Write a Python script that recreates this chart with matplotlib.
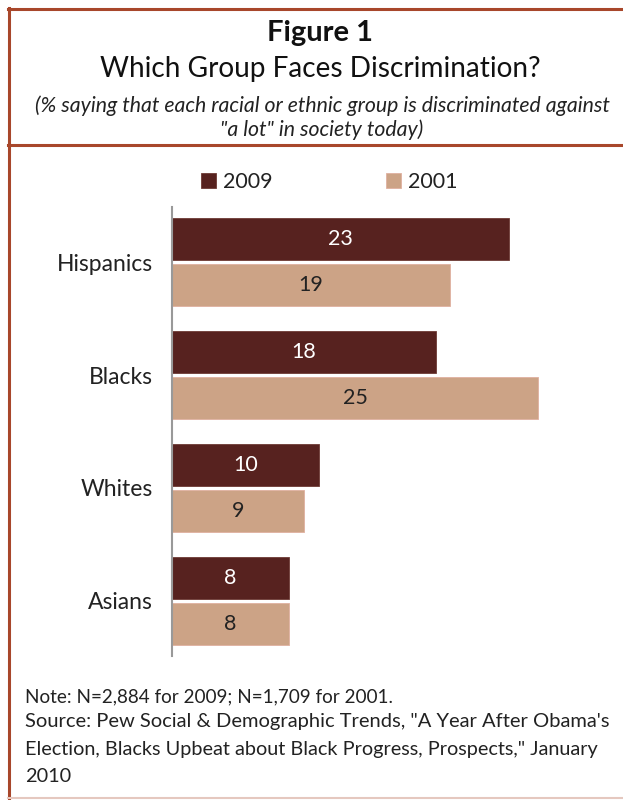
import matplotlib.pyplot as plt
import numpy as np

plt.rcParams['font.family'] = ['Lato', 'DejaVu Sans']

groups = ['Hispanics', 'Blacks', 'Whites', 'Asians']
vals_2009 = [23, 18, 10, 8]
vals_2001 = [19, 25, 9, 8]
years = ['2009', '2001']

dark = '#57221f'
tan = '#cca386'
frame = '#a8472b'

W, H = 623, 800
fig = plt.figure(figsize=(W / 100, H / 100), dpi=100)

def fx(x):
    return x / W

def fy(y):
    return 1 - y / H

# plot area
ax = fig.add_axes([fx(172), fy(656), fx(600) - fx(172), fy(207) - fy(656)])
y = np.arange(len(groups))
h = 0.372
off = 0.204
b1 = ax.barh(y - off, vals_2009, height=h, color=dark, edgecolor='#6e3a35', linewidth=0.6)
b2 = ax.barh(y + off, vals_2001, height=h, color=tan, edgecolor='#e0b0a0', linewidth=0.6)
for rect, v in zip(b1, vals_2009):
    ax.text(v / 2, rect.get_y() + rect.get_height() / 2, str(v), ha='center', va='center',
            color='white', fontsize=15.5)
for rect, v in zip(b2, vals_2001):
    ax.text(v / 2, rect.get_y() + rect.get_height() / 2, str(v), ha='center', va='center',
            color='#222222', fontsize=15.5)

ax.set_xlim(0, 428 / 14.65)
ax.set_ylim(3.487, -0.487)
ax.set_yticks(y)
ax.set_yticklabels(groups, fontsize=16.5, color='#222222')
ax.tick_params(axis='y', length=0, pad=13.5)
ax.set_xticks([])
for s in ['top', 'right', 'bottom']:
    ax.spines[s].set_visible(False)
ax.spines['left'].set_color('#999999')
ax.spines['left'].set_linewidth(1.5)

# legend
lg = ax.legend([b1, b2], years, loc='lower left', bbox_to_anchor=(fx(201), fy(192)),
               bbox_transform=fig.transFigure, ncol=2, frameon=False, fontsize=15.5,
               handlelength=0.7, handleheight=0.7, handletextpad=0.3, columnspacing=5.3,
               borderpad=0, borderaxespad=0)
for t in lg.get_texts():
    t.set_color('#222222')

# titles
fig.text(fx(320), fy(33), 'Figure 1', ha='center', va='center', fontsize=21,
         fontweight='bold', color='#111111')
fig.text(fx(320), fy(69), 'Which Group Faces Discrimination?', ha='center', va='center',
         fontsize=20.2, color='#111111')
fig.text(fx(322), fy(106), '(% saying that each racial or ethnic group is discriminated against',
         ha='center', va='center', fontsize=15.3, style='italic', color='#222222')
fig.text(fx(322), fy(130), '"a lot" in society today)', ha='center', va='center',
         fontsize=15.3, style='italic', color='#222222')

# notes
fig.text(fx(25), fy(697), 'Note: N=2,884 for 2009; N=1,709 for 2001.', ha='left',
         va='center', fontsize=13.6, color='#222222')
fig.text(fx(25), fy(722), 'Source: Pew Social & Demographic Trends, "A Year After Obama\'s',
         ha='left', va='center', fontsize=14.5, color='#222222')
fig.text(fx(25), fy(749), 'Election, Blacks Upbeat about Black Progress, Prospects," January',
         ha='left', va='center', fontsize=14.3, color='#222222')
fig.text(fx(25), fy(776), '2010', ha='left', va='center', fontsize=14.3, color='#222222')

# frame lines
fig.add_artist(plt.Line2D([fx(8), 1], [fy(9), fy(9)], color=frame, lw=2.2))
fig.add_artist(plt.Line2D([fx(9), fx(9)], [fy(8), 0], color=frame, lw=2.2))
fig.add_artist(plt.Line2D([fx(8), 1], [fy(145), fy(145)], color=frame, lw=2.2))
fig.add_artist(plt.Line2D([fx(8), 1], [fy(798), fy(798)], color='#e5c8bf', lw=1.5))

fig.savefig('out.png', dpi=100)
